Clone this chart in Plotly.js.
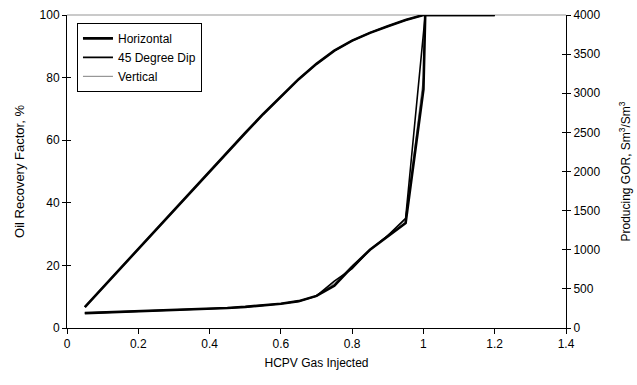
<!DOCTYPE html>
<html>
<head>
<meta charset="utf-8">
<script src="https://cdn.plot.ly/plotly-3.0.1.min.js"></script>
<style>html,body{margin:0;padding:0;background:#fff;}#chart{width:637px;height:385px;}</style>
</head>
<body>
<div id="chart"></div>
<script>
// HCPV gas injected (x) for recovery curves
const recX = [0.05, 0.1, 0.15, 0.2, 0.25, 0.3, 0.35, 0.4, 0.45, 0.5, 0.55, 0.6, 0.65, 0.7, 0.75, 0.8, 0.85, 0.9, 0.95, 1.0, 1.05, 1.1, 1.15, 1.2];
// Oil recovery factor, %
const recHorizontal = [6.7, 12.9, 19.1, 25.3, 31.5, 37.7, 43.9, 50.1, 56.2, 62.3, 68.3, 74.0, 79.5, 84.4, 88.6, 91.8, 94.3, 96.4, 98.4, 100, 100, 100, 100, 100];
const recDip        = [6.7, 12.9, 19.1, 25.3, 31.5, 37.7, 43.9, 50.1, 56.2, 62.3, 68.3, 74.0, 79.5, 84.4, 88.6, 91.8, 94.3, 96.4, 98.4, 100, 100, 100, 100, 100];
const recVertical   = [6.7, 12.9, 19.1, 25.3, 31.5, 37.7, 43.9, 50.1, 56.2, 62.3, 68.3, 74.0, 79.5, 84.4, 88.6, 91.8, 94.3, 96.4, 98.4, 100, 100, 100, 100, 100];

// Producing GOR, Sm3/Sm3
const gorHorizontalX = [0.05, 0.1, 0.15, 0.2, 0.25, 0.3, 0.35, 0.4, 0.45, 0.5, 0.55, 0.6, 0.65, 0.7, 0.75, 0.8, 0.85, 0.9, 0.95, 1.0, 1.005, 1.05, 1.1, 1.15, 1.2];
const gorHorizontal  = [190, 198, 205, 212, 220, 228, 236, 245, 256, 270, 288, 310, 343, 410, 540, 780, 1000, 1170, 1340, 3050, 4000, 4000, 4000, 4000, 4000];
const gorDipX = [0.05, 0.1, 0.15, 0.2, 0.25, 0.3, 0.35, 0.4, 0.45, 0.5, 0.55, 0.6, 0.65, 0.7, 0.75, 0.8, 0.85, 0.9, 0.95, 1.005, 1.05, 1.1, 1.15, 1.2];
const gorDip  = [190, 198, 205, 212, 220, 228, 236, 245, 256, 270, 288, 310, 343, 410, 600, 760, 1000, 1180, 1400, 4000, 4000, 4000, 4000, 4000];
const gorVerticalX = [0.05, 0.1, 0.15, 0.2, 0.25, 0.3, 0.35, 0.4, 0.45, 0.5, 0.55, 0.6, 0.65, 0.7, 0.75, 0.8, 0.85, 0.9, 0.95, 1.0, 1.005, 1.05, 1.1, 1.15, 1.2];
const gorVertical  = [190, 198, 205, 212, 220, 228, 236, 245, 256, 270, 288, 310, 343, 410, 570, 800, 1000, 1190, 1380, 3200, 4000, 4000, 4000, 4000, 4000];

const seriesNames = ['Horizontal', '45 Degree Dip', 'Vertical'];
const xTicks = [0, 0.2, 0.4, 0.6, 0.8, 1, 1.2, 1.4];
const yTicks = [0, 20, 40, 60, 80, 100];
const y2Ticks = [0, 500, 1000, 1500, 2000, 2500, 3000, 3500, 4000];

const styles = [
  {color: '#000000', width: 2.6},
  {color: '#000000', width: 1.6},
  {color: '#808080', width: 1.0}
];
const recData = [recHorizontal, recDip, recVertical];
const gorXs = [gorHorizontalX, gorDipX, gorVerticalX];
const gorData = [gorHorizontal, gorDip, gorVertical];

const traces = [];
for (let i = 2; i >= 0; i--) {
  traces.push({
    x: recX, y: recData[i], type: 'scatter', mode: 'lines',
    name: seriesNames[i], legendgroup: seriesNames[i], legendrank: i + 1,
    line: {color: styles[i].color, width: styles[i].width},
    xaxis: 'x', yaxis: 'y', hoverinfo: 'skip'
  });
  traces.push({
    x: gorXs[i], y: gorData[i], type: 'scatter', mode: 'lines',
    name: seriesNames[i], legendgroup: seriesNames[i], showlegend: false,
    line: {color: styles[i].color, width: styles[i].width},
    xaxis: 'x', yaxis: 'y2', hoverinfo: 'skip'
  });
}

const font = {family: 'Liberation Sans, Arial, sans-serif', size: 12, color: '#000'};

const layout = {
  width: 637, height: 385,
  margin: {l: 67, r: 71, t: 15, b: 57},
  paper_bgcolor: '#fff', plot_bgcolor: '#fff',
  font: font,
  showlegend: true,
  legend: {
    x: 0.02, y: 0.975, xanchor: 'left', yanchor: 'top',
    bgcolor: '#fff', bordercolor: '#000', borderwidth: 1,
    font: {family: font.family, size: 12, color: '#000'},
    tracegroupgap: 0, itemwidth: 30, traceorder: 'normal'
  },
  xaxis: {
    range: [0, 1.4], tickvals: xTicks, ticktext: xTicks.map(String),
    showgrid: false, zeroline: false, showline: true, linecolor: '#000', linewidth: 1,
    ticks: 'outside', ticklen: 5, tickcolor: '#000', tickfont: {size: 12},
    title: {text: 'HCPV Gas Injected', font: {size: 12}, standoff: 8}
  },
  yaxis: {
    range: [0, 100], tickvals: yTicks, ticktext: yTicks.map(String),
    showgrid: false, zeroline: false, showline: true, linecolor: '#000', linewidth: 1,
    ticks: 'outside', ticklen: 4, tickcolor: '#000', tickfont: {size: 12},
    title: {text: 'Oil Recovery Factor, %', font: {size: 13}, standoff: 12}
  },
  yaxis2: {
    range: [0, 4000], tickvals: y2Ticks, ticktext: y2Ticks.map(String),
    overlaying: 'y', side: 'right',
    showgrid: false, zeroline: false, showline: true, linecolor: '#000', linewidth: 1,
    ticks: 'outside', ticklen: 4, tickcolor: '#000', tickfont: {size: 12},
    title: {text: 'Producing GOR, Sm<sup>3</sup>/Sm<sup>3</sup>', font: {size: 12}, standoff: 22}
  },
  yaxis3: {
    range: [0, 100], tickvals: yTicks, overlaying: 'y', side: 'left',
    showgrid: false, zeroline: false, showline: false, showticklabels: false,
    ticks: 'inside', ticklen: 4, tickcolor: '#000'
  },
  yaxis4: {
    range: [0, 4000], tickvals: y2Ticks, overlaying: 'y', side: 'right',
    showgrid: false, zeroline: false, showline: false, showticklabels: false,
    ticks: 'inside', ticklen: 4, tickcolor: '#000'
  },
  shapes: [{
    type: 'line', xref: 'paper', yref: 'paper', x0: 0, x1: 1, y0: 1, y1: 1,
    line: {color: '#b8b8b8', width: 1.5}, layer: 'below'
  }]
};

traces.push({x: [0], y: [0], yaxis: 'y3', xaxis: 'x', mode: 'markers', marker: {opacity: 0}, showlegend: false, hoverinfo: 'skip'});
traces.push({x: [0], y: [0], yaxis: 'y4', xaxis: 'x', mode: 'markers', marker: {opacity: 0}, showlegend: false, hoverinfo: 'skip'});

Plotly.newPlot('chart', traces, layout, {staticPlot: true, displayModeBar: false});
</script>
</body>
</html>
